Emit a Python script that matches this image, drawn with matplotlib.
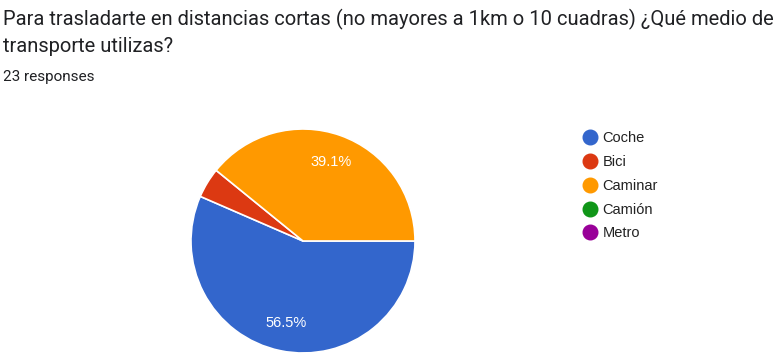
import matplotlib.pyplot as plt
from matplotlib.lines import Line2D

# respuestas de la encuesta (23 en total)
categories = ['Coche', 'Bici', 'Caminar', 'Camión', 'Metro']
counts = [13, 1, 9, 0, 0]
colors = ['#3366cc', '#dc3912', '#ff9900', '#109618', '#990099']

title_lines = ['Para trasladarte en distancias cortas (no mayores a 1km o 10 cuadras) ¿Qué medio de',
               'transporte utilizas?']
subtitle = '23 responses'

plt.rcParams['font.family'] = ['Roboto', 'DejaVu Sans']

fig = plt.figure(figsize=(7.75, 3.57), dpi=100)
W, H = 775, 357

fig.text(3 / W, 1 - 25 / H, title_lines[0], fontsize=14.5, color='#202124',
         va='baseline', ha='left')
fig.text(3 / W, 1 - 52 / H, title_lines[1], fontsize=14.5, color='#202124',
         va='baseline', ha='left')
fig.text(3 / W, 1 - 81 / H, subtitle, fontsize=11, color='#202124', va='baseline', ha='left')

# pie axes centred at (303, 241) with radius ~112 px
cx, cy, r = 303, 241, 112
ax = fig.add_axes([(cx - r) / W, (H - cy - r) / H, 2 * r / W, 2 * r / H])

vals = [c for c in counts if c > 0]
cols = [colors[i] for i, c in enumerate(counts) if c > 0]


def fmt(pct):
    return '%.1f%%' % pct if pct >= 5 else ''


wedges, texts, autotexts = ax.pie(vals, colors=cols, startangle=0, counterclock=False,
                                  autopct=fmt, pctdistance=0.75,
                                  wedgeprops=dict(edgecolor='white', linewidth=1.2))
for t in autotexts:
    t.set_color('white')
    t.set_fontsize(10.5)
    t.set_family(['Liberation Sans', 'DejaVu Sans'])
ax.set_xlim(-1, 1)
ax.set_ylim(-1, 1)
ax.set_aspect('equal')

handles = [Line2D([], [], marker='o', linestyle='', markersize=10.5,
                  markerfacecolor=c, markeredgecolor=c) for c in colors]
fig.legend(handles, categories, loc='upper left', bbox_to_anchor=(574 / W, 1 - 124 / H),
           frameon=False, prop={'family': ['Liberation Sans', 'DejaVu Sans'], 'size': 10.5},
           labelspacing=0.67, handletextpad=0.25, handlelength=1.2, borderpad=0,
           labelcolor='#222222')

fig.savefig('out.png', dpi=100)
